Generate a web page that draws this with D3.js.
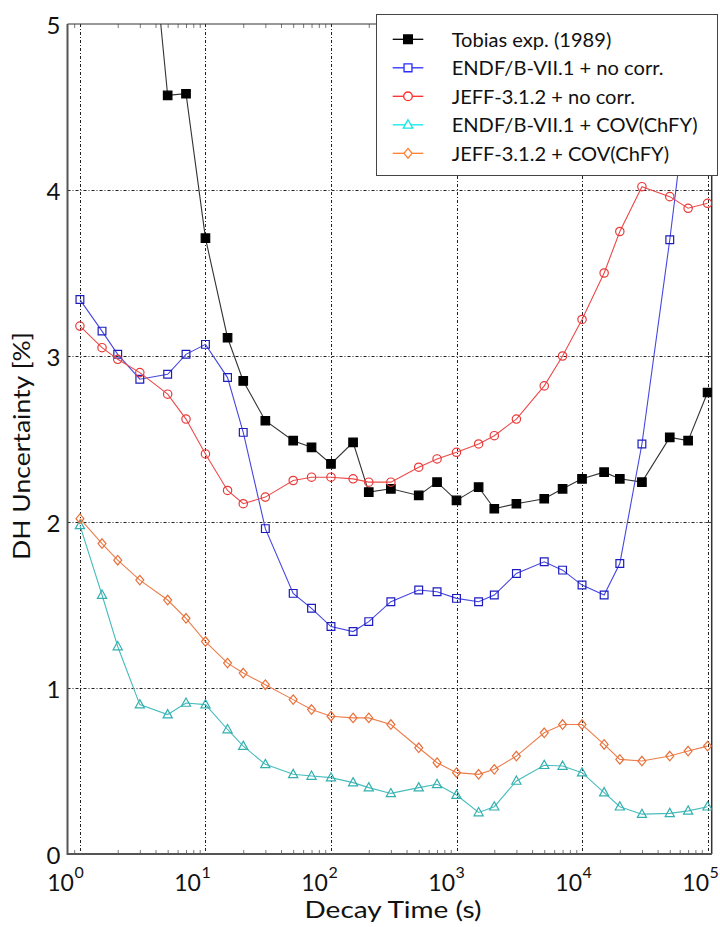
<!DOCTYPE html>
<html><head><meta charset="utf-8">
<script src="https://cdn.jsdelivr.net/npm/d3@7"></script>
<style>body{margin:0;background:#fff;} svg{display:block;font-family:Lato,"Open Sans",sans-serif;}</style>
</head><body><svg id="c" width="720" height="927"></svg>
<script>
// ---------- data ----------
const times = [1,1.5,2,3,5,7,10,15,20,30,50,70,100,150,200,300,500,700,1000,1500,2000,3000,5000,7000,10000,15000,20000,30000,50000,70000,100000];
const tobiasTimes = [3,5,7,10,15,20,30,50,70,100,150,200,300,500,700,1000,1500,2000,3000,5000,7000,10000,15000,20000,30000,50000,70000,100000];
const tobias = [6.3,4.57,4.58,3.71,3.11,2.85,2.61,2.49,2.45,2.35,2.48,2.18,2.20,2.16,2.24,2.13,2.21,2.08,2.11,2.14,2.20,2.26,2.30,2.26,2.24,2.51,2.49,2.78];
const endfNoCorr = [3.34,3.15,3.01,2.86,2.89,3.01,3.07,2.87,2.54,1.96,1.57,1.48,1.37,1.34,1.40,1.52,1.59,1.58,1.54,1.52,1.56,1.69,1.76,1.71,1.62,1.56,1.75,2.47,3.70,4.6,5.5];
const jeffNoCorr = [3.18,3.05,2.98,2.90,2.77,2.62,2.41,2.19,2.11,2.15,2.25,2.27,2.27,2.26,2.24,2.24,2.33,2.38,2.42,2.47,2.52,2.62,2.82,3.00,3.22,3.50,3.75,4.02,3.96,3.89,3.92];
const endfCov = [1.98,1.56,1.25,0.90,0.84,0.91,0.90,0.75,0.65,0.54,0.48,0.47,0.46,0.43,0.40,0.365,0.40,0.42,0.355,0.25,0.285,0.44,0.535,0.53,0.49,0.37,0.285,0.24,0.245,0.26,0.285];
const jeffCov = [2.02,1.87,1.77,1.65,1.53,1.42,1.28,1.15,1.09,1.02,0.93,0.87,0.83,0.82,0.82,0.78,0.64,0.55,0.49,0.48,0.51,0.59,0.73,0.78,0.78,0.66,0.57,0.56,0.59,0.62,0.65];
const seriesNames = ["Tobias exp. (1989)","ENDF/B-VII.1 + no corr.","JEFF-3.1.2 + no corr.","ENDF/B-VII.1 + COV(ChFY)","JEFF-3.1.2 + COV(ChFY)"];
const yTicks = [0,1,2,3,4,5];
const xDecades = [0,1,2,3,4,5];
const xTitle = "Decay Time (s)";
const yTitle = "DH Uncertainty [%]";

// ---------- layout ----------
const L = 67.5, R = 711.7, T = 24, B = 854;
const svg = d3.select("#c");
const x = d3.scaleLog().domain([Math.pow(10,-0.099), Math.pow(10,5.033)]).range([L,R]);
const y = d3.scaleLinear().domain([0,5]).range([B,T]);

// marker shapes
const sqr = {draw(c,s){const h=Math.sqrt(s)/2;c.moveTo(-h,-h);c.lineTo(h,-h);c.lineTo(h,h);c.lineTo(-h,h);c.closePath();}};
const circ = {draw(c,s){const r=Math.sqrt(s/Math.PI);c.moveTo(r,0);c.arc(0,0,r,0,2*Math.PI);}};
const tri = {draw(c,s){const w=Math.sqrt(s)*1.1;const h=w*0.9;c.moveTo(0,-h*0.6);c.lineTo(w/2,h*0.4);c.lineTo(-w/2,h*0.4);c.closePath();}};
const dia = {draw(c,s){const w=Math.sqrt(s)*0.95;const h=w*1.2;c.moveTo(0,-h/2);c.lineTo(w/2,0);c.lineTo(0,h/2);c.lineTo(-w/2,0);c.closePath();}};

const series = [
  {name:seriesNames[0], t:tobiasTimes, v:tobias, line:"#333", mk:"#000", fill:"#000", sym:sqr, size:72, leg:"#000"},
  {name:seriesNames[1], t:times, v:endfNoCorr, line:"#4646e0", mk:"#1c1cc0", fill:"none", sym:sqr, size:60, leg:"#2a2aff"},
  {name:seriesNames[2], t:times, v:jeffNoCorr, line:"#ec4a4a", mk:"#e83a3a", fill:"none", sym:circ, size:55, leg:"#ff2a2a"},
  {name:seriesNames[3], t:times, v:endfCov, line:"#48bcbc", mk:"#35b0b0", fill:"none", sym:tri, size:70, leg:"#10e8e8"},
  {name:seriesNames[4], t:times, v:jeffCov, line:"#ec7d4a", mk:"#e8703a", fill:"none", sym:dia, size:70, leg:"#ff8030"}
];

svg.append("defs").append("clipPath").attr("id","clip")
  .append("rect").attr("x",L).attr("y",T).attr("width",R-L).attr("height",B-T);

// grid
const grid = svg.append("g").attr("stroke","#222").attr("stroke-width",1).attr("stroke-dasharray","3,2,1,2");
grid.selectAll("line.v").data(xDecades).join("line")
  .attr("x1",d=>Math.round(x(Math.pow(10,d)))+0.5).attr("x2",d=>Math.round(x(Math.pow(10,d)))+0.5)
  .attr("y1",T).attr("y2",B);
grid.selectAll("line.h").data(yTicks.filter(d=>d>0&&d<5)).join("line")
  .attr("y1",d=>Math.round(y(d))+0.5).attr("y2",d=>Math.round(y(d))+0.5)
  .attr("x1",L).attr("x2",R);

// minor ticks
const minor = [];
for (let e=-1;e<=5;e++) for (let m=2;m<=9;m++){const v=m*Math.pow(10,e); if (x(v)>L+1 && x(v)<R-1) minor.push(v);}
const gb = svg.append("g").attr("transform",`translate(0,${B})`)
  .call(d3.axisBottom(x).tickValues(minor).tickSize(-4).tickFormat(""));
gb.select(".domain").remove();
gb.selectAll("line").attr("stroke","#777");
const gt = svg.append("g").attr("transform",`translate(0,${T})`)
  .call(d3.axisTop(x).tickValues(minor).tickSize(-4).tickFormat(""));
gt.select(".domain").remove();
gt.selectAll("line").attr("stroke","#777");
// right inward ticks
const gr = svg.append("g").attr("transform",`translate(${R},0)`)
  .call(d3.axisRight(y).tickValues(yTicks).tickSize(-6).tickFormat(""));
gr.select(".domain").remove();
gr.selectAll("line").attr("stroke","#444");

// frame
svg.append("line").attr("x1",L).attr("x2",R).attr("y1",T).attr("y2",T).attr("stroke","#333").attr("stroke-width",1.2);
svg.append("line").attr("x1",R).attr("x2",R).attr("y1",T).attr("y2",B).attr("stroke","#333").attr("stroke-width",1.5);
svg.append("line").attr("x1",L).attr("x2",R).attr("y1",B).attr("y2",B).attr("stroke","#555").attr("stroke-width",2);
svg.append("line").attr("x1",L).attr("x2",L).attr("y1",T).attr("y2",B+1).attr("stroke","#555").attr("stroke-width",2);

// y tick labels
const gl = svg.append("g").attr("transform",`translate(${L},0)`)
  .call(d3.axisLeft(y).tickValues(yTicks).tickSize(0).tickPadding(7).tickFormat(d3.format("d")));
gl.select(".domain").remove();
gl.selectAll("text").attr("font-size",24).attr("font-family","Lato,sans-serif").attr("fill","#111").attr("dy","0.38em");

// x tick labels (10^n)
const xl = svg.append("g").attr("font-size",23).attr("fill","#111");
xDecades.forEach((d,i)=>{
  const bx = x(Math.pow(10,d)) - 6 + 1.5*i;
  xl.append("text").attr("x", bx).attr("y",891).attr("text-anchor","end").text("10");
  xl.append("text").attr("x", bx + 0.5).attr("y",878).attr("font-size",16).text(String(d));
});

// series
const plot = svg.append("g").attr("clip-path","url(#clip)");
series.forEach(s=>{
  const pts = s.t.map((t,i)=>[t,s.v[i]]);
  plot.append("path").datum(pts)
    .attr("d", d3.line().x(d=>x(d[0])).y(d=>y(d[1])))
    .attr("fill","none").attr("stroke",s.line).attr("stroke-width",1.1);
  plot.selectAll(null).data(pts).join("path")
    .attr("transform",d=>`translate(${x(d[0])},${y(d[1])})`)
    .attr("d", d3.symbol().type(s.sym).size(s.size))
    .attr("fill", s.fill==="none" ? "#fff" : s.fill).attr("fill-opacity", s.fill==="none"?0:1)
    .attr("stroke", s.mk).attr("stroke-width",1.2);
});

// axis titles
svg.append("text").attr("x",393).attr("y",918).attr("text-anchor","middle")
  .attr("font-size",24).attr("fill","#111").attr("textLength",177).attr("lengthAdjust","spacingAndGlyphs").text(xTitle);
svg.append("text").attr("transform","translate(30,446) rotate(-90)").attr("text-anchor","middle")
  .attr("font-size",24).attr("fill","#111").attr("textLength",228).attr("lengthAdjust","spacingAndGlyphs").text(yTitle);

// legend
const lg = svg.append("g");
lg.append("rect").attr("x",376.5).attr("y",14.5).attr("width",341).attr("height",161)
  .attr("fill","#fff").attr("stroke","#444").attr("stroke-width",1);
const texts = [];
series.forEach((s,i)=>{
  const cy = 39.3 + i*28.5;
  lg.append("line").attr("x1",392.7).attr("x2",423.3).attr("y1",cy).attr("y2",cy).attr("stroke",s.leg).attr("stroke-width",1.3);
  lg.append("path").attr("transform",`translate(408,${cy})`)
    .attr("d", d3.symbol().type(s.sym).size(s.size*1.05))
    .attr("fill", s.fill==="none" ? "#fff" : s.fill).attr("stroke", s.leg).attr("stroke-width",1.3);
  texts.push(lg.append("text").attr("x",451.7).attr("y",cy).attr("dy","0.36em")
    .attr("font-size",23).attr("fill","#111").text(s.name));
});
// scale font so the longest entry spans the same width as in the reference
const w3 = texts[3].node().getComputedTextLength();
const fs = Math.min(23, 23 * 246 / w3);
texts.forEach(t=>t.attr("font-size", fs));
</script></body></html>
